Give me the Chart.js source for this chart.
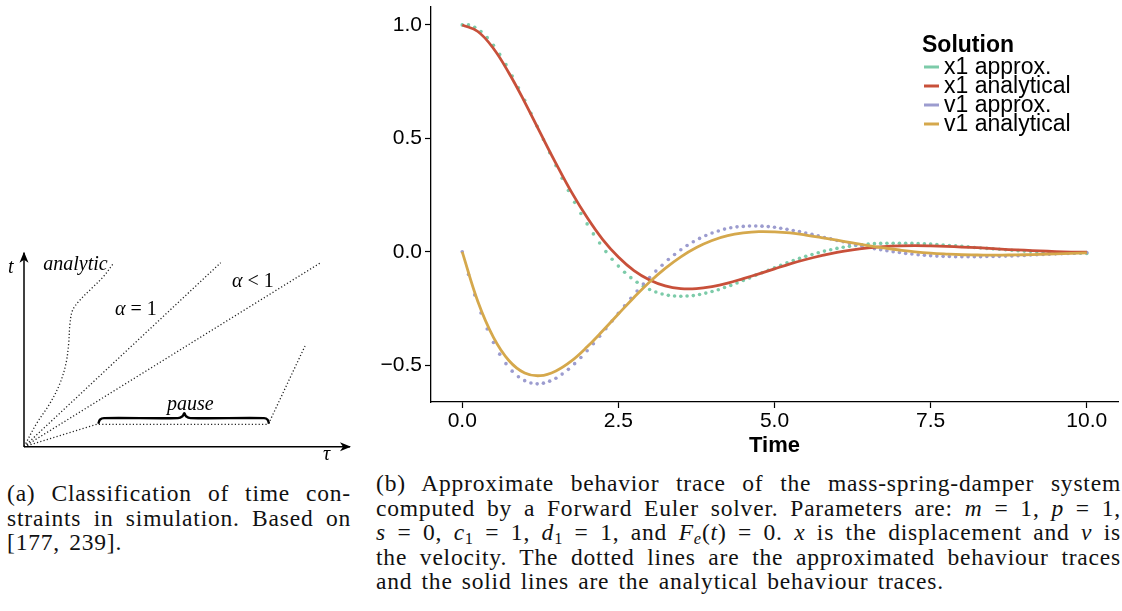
<!DOCTYPE html>
<html>
<head>
<meta charset="utf-8">
<script src="https://cdn.jsdelivr.net/npm/chart.js@4.4.0/dist/chart.umd.min.js"></script>
<style>
  body { margin: 0; background: #fff; }
  #page { position: relative; width: 1122px; height: 611px; overflow: hidden; background: #fff; }
  .panel { position: absolute; }
  .cap {
    position: absolute;
    font-family: "Liberation Serif", serif;
    font-size: 23.5px;
    line-height: 24.6px;
    letter-spacing: 0.8px;
    word-spacing: 2.5px;
    color: #111;
  }
  .cap div { text-align: justify; text-align-last: justify; white-space: nowrap; }
  .cap div.last { text-align-last: left; }
  .cap sub { font-size: 0.7em; line-height: 0; vertical-align: -0.25em; }
</style>
</head>
<body>
<div id="page">
  <div class="panel" style="left:0; top:240px; width:365px; height:230px;">
    <canvas id="diagramChart"></canvas>
  </div>
  <div class="panel" style="left:370px; top:0; width:752px; height:470px;">
    <canvas id="traceChart"></canvas>
  </div>

  <div class="cap" style="left:7px; top:481px; width:344px;">
    <div>(a) Classification of time con-</div>
    <div>straints in simulation. Based on</div>
    <div class="last">[177, 239].</div>
  </div>

  <div class="cap" style="left:376px; top:471px; width:745px;">
    <div>(b) Approximate behavior trace of the mass-spring-damper system</div>
    <div>computed by a Forward Euler solver. Parameters are: <i>m</i> = 1, <i>p</i> = 1,</div>
    <div><i>s</i> = 0, <i>c</i><sub>1</sub> = 1, <i>d</i><sub>1</sub> = 1, and <i>F<sub>e</sub></i>(<i>t</i>) = 0. <i>x</i> is the displacement and <i>v</i> is</div>
    <div>the velocity. The dotted lines are the approximated behaviour traces</div>
    <div class="last">and the solid lines are the analytical behaviour traces.</div>
  </div>
</div>

<script>
// ===== (b) data: analytical solution =====
const analyticTime = [0, 0.25, 0.5, 0.75, 1, 1.25, 1.5, 1.75, 2, 2.25, 2.5, 2.75, 3, 3.25, 3.5, 3.75, 4, 4.25, 4.5, 4.75,
  5, 5.25, 5.5, 5.75, 6, 6.25, 6.5, 6.75, 7, 7.25, 7.5, 7.75, 8, 8.25, 8.5, 8.75, 9, 9.25, 9.5, 9.75, 10];
const x1Analytic = [1.000, 0.971, 0.896, 0.787, 0.660, 0.524, 0.390, 0.263, 0.151, 0.054,
  -0.023, -0.083, -0.124, -0.150, -0.162, -0.162, -0.153, -0.138, -0.118, -0.097,
  -0.075, -0.053, -0.034, -0.017, -0.002, 0.009, 0.017, 0.023, 0.026, 0.027,
  0.026, 0.024, 0.021, 0.018, 0.014, 0.010, 0.007, 0.004, 0.001, -0.001, -0.002];
const v1Analytic = [0.000, -0.219, -0.377, -0.480, -0.534, -0.546, -0.525, -0.481, -0.419, -0.348,
  -0.274, -0.201, -0.133, -0.073, -0.022, 0.019, 0.050, 0.071, 0.083, 0.089,
  0.088, 0.083, 0.074, 0.063, 0.051, 0.039, 0.027, 0.017, 0.008, 0.000,
  -0.006, -0.010, -0.013, -0.014, -0.015, -0.014, -0.013, -0.011, -0.009, -0.007, -0.005];

// ===== (b) data: Euler approximation (one dot per step) =====
const approxTime = [0, 0.1, 0.2, 0.3, 0.4, 0.5, 0.6, 0.7, 0.8, 0.9,
  1, 1.1, 1.2, 1.3, 1.4, 1.5, 1.6, 1.7, 1.8, 1.9,
  2, 2.1, 2.2, 2.3, 2.4, 2.5, 2.6, 2.7, 2.8, 2.9,
  3, 3.1, 3.2, 3.3, 3.4, 3.5, 3.6, 3.7, 3.8, 3.9,
  4, 4.1, 4.2, 4.3, 4.4, 4.5, 4.6, 4.7, 4.8, 4.9,
  5, 5.1, 5.2, 5.3, 5.4, 5.5, 5.6, 5.7, 5.8, 5.9,
  6, 6.1, 6.2, 6.3, 6.4, 6.5, 6.6, 6.7, 6.8, 6.9,
  7, 7.1, 7.2, 7.3, 7.4, 7.5, 7.6, 7.7, 7.8, 7.9,
  8, 8.1, 8.2, 8.3, 8.4, 8.5, 8.6, 8.7, 8.8, 8.9,
  9, 9.1, 9.2, 9.3, 9.4, 9.5, 9.6, 9.7, 9.8, 9.9,
  10];
const x1Approx = [1.000, 1.000, 0.990, 0.971, 0.944, 0.910, 0.870, 0.825, 0.775, 0.723,
  0.668, 0.611, 0.553, 0.495, 0.437, 0.380, 0.324, 0.270, 0.218, 0.169,
  0.123, 0.079, 0.039, 0.001, -0.033, -0.063, -0.090, -0.114, -0.134, -0.152,
  -0.166, -0.177, -0.186, -0.192, -0.195, -0.196, -0.195, -0.193, -0.188, -0.182,
  -0.175, -0.167, -0.157, -0.148, -0.137, -0.126, -0.115, -0.103, -0.092, -0.081,
  -0.070, -0.059, -0.048, -0.038, -0.029, -0.020, -0.012, -0.004, 0.003, 0.009,
  0.015, 0.020, 0.024, 0.028, 0.031, 0.034, 0.036, 0.037, 0.038, 0.038,
  0.038, 0.038, 0.037, 0.036, 0.035, 0.034, 0.032, 0.030, 0.028, 0.026,
  0.024, 0.022, 0.019, 0.017, 0.015, 0.013, 0.011, 0.009, 0.007, 0.005,
  0.003, 0.002, 0.000, -0.001, -0.002, -0.003, -0.004, -0.005, -0.006, -0.006,
  -0.007];
const v1Approx = [0.000, -0.100, -0.190, -0.270, -0.340, -0.400, -0.451, -0.493, -0.526, -0.551,
  -0.568, -0.578, -0.582, -0.579, -0.570, -0.557, -0.539, -0.518, -0.493, -0.466,
  -0.436, -0.405, -0.372, -0.339, -0.305, -0.271, -0.238, -0.205, -0.173, -0.142,
  -0.113, -0.085, -0.059, -0.034, -0.012, 0.009, 0.028, 0.044, 0.059, 0.072,
  0.083, 0.092, 0.100, 0.106, 0.110, 0.112, 0.114, 0.114, 0.113, 0.111,
  0.108, 0.104, 0.099, 0.094, 0.089, 0.083, 0.077, 0.070, 0.063, 0.057,
  0.050, 0.044, 0.037, 0.031, 0.025, 0.020, 0.014, 0.009, 0.005, 0.000,
  -0.003, -0.007, -0.010, -0.013, -0.015, -0.017, -0.019, -0.020, -0.021, -0.022,
  -0.022, -0.022, -0.022, -0.022, -0.021, -0.021, -0.020, -0.019, -0.018, -0.017,
  -0.016, -0.014, -0.013, -0.012, -0.011, -0.009, -0.008, -0.007, -0.006, -0.004,
  -0.003];

const timeTicks = [0, 2.5, 5, 7.5, 10];
const valueTicks = [-0.5, 0, 0.5, 1];
const seriesLabels = ["x1 approx.", "x1 analytical", "v1 approx.", "v1 analytical"];
const seriesColors = ["#7ccba9", "#c8503a", "#9c9ccf", "#d5a84c"];

// ===== (a) data: diagram lines, in tau / t units =====
const tAxisX = [0, 0];
const tAxisY = [0, 194];
const tauAxisX = [0, 326];
const tauAxisY = [0, 0];
const analyticX = [0, 12.7, 26, 36, 42, 44.7, 46, 48.7, 56, 67.7, 79.3, 90];
const analyticY = [0, 23.4, 43.4, 63.4, 83.4, 103.4, 123.4, 136.7, 146.7, 158.4, 170, 184];
const alphaOneX = [0, 196.7];
const alphaOneY = [0, 184];
const alphaLessX = [0, 296.7];
const alphaLessY = [0, 184];
const pauseX = [0, 72.7, 244.3, 281];
const pauseY = [0, 22.4, 22.4, 100.7];
const braceX = [74.3, 76, 80, 154, 158.5, 160.3, 162, 166.5, 240, 243.6, 245];
const braceY = [23, 27, 28.6, 28.6, 30.5, 33.6, 30.5, 28.6, 28.6, 27, 23];

const pairs = (xs, ys) => xs.map((x, i) => ({ x: x, y: ys[i] }));

// ===== (b) legend + axis title =====
const traceDecor = {
  id: "traceDecor",
  afterDraw(chart) {
    const ctx = chart.ctx;
    ctx.save();
    ctx.fillStyle = "#000";
    ctx.textAlign = "left";
    ctx.textBaseline = "alphabetic";
    ctx.font = 'bold 23px "Liberation Sans"';
    ctx.fillText("Solution", 552, 52);

    ctx.font = '23px "Liberation Sans"';
    ctx.textBaseline = "middle";
    seriesLabels.forEach((label, i) => {
      const y = 67 + i * 19;
      ctx.strokeStyle = seriesColors[i];
      ctx.lineWidth = 3;
      ctx.beginPath();
      ctx.moveTo(554, y);
      ctx.lineTo(569, y);
      ctx.stroke();
      ctx.fillStyle = "#000";
      ctx.fillText(label, 574, y + 1);
    });

    const area = chart.chartArea;
    ctx.font = 'bold 22px "Liberation Sans"';
    ctx.textAlign = "center";
    ctx.textBaseline = "alphabetic";
    ctx.fillText("Time", (area.left + area.right) / 2, 452);
    ctx.restore();
  },
};

const approxSet = (i, ys, order) => ({
  label: seriesLabels[i],
  data: pairs(approxTime, ys),
  showLine: false,
  pointRadius: 1.8,
  pointBorderWidth: 0,
  pointBackgroundColor: seriesColors[i],
  borderColor: seriesColors[i],
  order: order,
});
const analyticSet = (i, ys, order) => ({
  label: seriesLabels[i],
  data: pairs(analyticTime, ys),
  borderColor: seriesColors[i],
  borderWidth: 2.8,
  pointRadius: 0,
  tension: 0.4,
  order: order,
});

const tickFont = { family: "Liberation Sans", size: 21 };

new Chart(document.getElementById("traceChart"), {
  type: "line",
  data: {
    datasets: [
      approxSet(0, x1Approx, 3),
      analyticSet(1, x1Analytic, 1),
      approxSet(2, v1Approx, 2),
      analyticSet(3, v1Analytic, 0),
    ],
  },
  options: {
    responsive: true,
    maintainAspectRatio: false,
    animation: false,
    devicePixelRatio: 1,
    layout: { padding: { top: 7, right: 2, left: 0, bottom: 0 } },
    plugins: { legend: { display: false }, tooltip: { enabled: false } },
    scales: {
      x: {
        type: "linear",
        min: -0.5,
        max: 10.5,
        afterBuildTicks: (s) => { s.ticks = timeTicks.map((v) => ({ value: v })); },
        afterFit: (s) => { s.height = 68; s.paddingLeft = 0; s.paddingRight = 0; },
        grid: { drawOnChartArea: false, tickLength: 6, tickColor: "#000", tickWidth: 1.2 },
        border: { display: true, color: "#000", width: 1.3 },
        ticks: { font: tickFont, color: "#000", padding: 1, maxRotation: 0, callback: (v) => v.toFixed(1) },
      },
      y: {
        type: "linear",
        min: -0.662,
        max: 1.079,
        afterBuildTicks: (s) => { s.ticks = valueTicks.map((v) => ({ value: v })); },
        afterFit: (s) => { s.width = 61; s.paddingTop = 0; s.paddingBottom = 0; },
        grid: { drawOnChartArea: false, tickLength: 6, tickColor: "#000", tickWidth: 1.2 },
        border: { display: true, color: "#000", width: 1.3 },
        ticks: {
          font: tickFont,
          color: "#000",
          padding: 3,
          callback: (v) => (v < 0 ? "\u2212" : "") + Math.abs(v).toFixed(1),
        },
      },
    },
  },
  plugins: [traceDecor],
});

// ===== (a) diagram: arrows + labels =====
const diagramLabels = [
  { x: 19.3, y: 176.7, parts: [["analytic", true]] },
  { x: 91, y: 131.7, parts: [["\u03b1", true], [" = 1", false]] },
  { x: 208, y: 160, parts: [["\u03b1", true], [" < 1", false]] },
  { x: 143, y: 36.7, parts: [["pause", true]] },
  { x: -16, y: 173.7, parts: [["t", true]] },
  { x: 299, y: -13.3, parts: [["\u03c4", true]] },
];

const diagramDecor = {
  id: "diagramDecor",
  afterDatasetsDraw(chart) {
    const ctx = chart.ctx;
    const sx = chart.scales.x;
    const sy = chart.scales.y;
    ctx.save();
    ctx.fillStyle = "#000";

    // arrow heads
    const ux = sx.getPixelForValue(tAxisX[1]);
    const uy = sy.getPixelForValue(tAxisY[1]);
    ctx.beginPath();
    ctx.moveTo(ux, uy - 1);
    ctx.lineTo(ux - 4.5, uy + 10);
    ctx.lineTo(ux, uy + 7);
    ctx.lineTo(ux + 4.5, uy + 10);
    ctx.closePath();
    ctx.fill();
    const rx = sx.getPixelForValue(tauAxisX[1]);
    const ry = sy.getPixelForValue(tauAxisY[1]);
    ctx.beginPath();
    ctx.moveTo(rx + 1, ry);
    ctx.lineTo(rx - 10, ry - 4.5);
    ctx.lineTo(rx - 7, ry);
    ctx.lineTo(rx - 10, ry + 4.5);
    ctx.closePath();
    ctx.fill();

    // labels
    ctx.textBaseline = "alphabetic";
    ctx.textAlign = "left";
    diagramLabels.forEach((lab) => {
      let px = sx.getPixelForValue(lab.x);
      const py = sy.getPixelForValue(lab.y);
      lab.parts.forEach(([text, italic]) => {
        ctx.font = (italic ? "italic " : "") + '20px "Liberation Serif"';
        ctx.fillText(text, px, py);
        px += ctx.measureText(text).width;
      });
    });
    ctx.restore();
  },
};

const solidLine = (pts) => ({
  data: pts, showLine: true, borderColor: "#000", borderWidth: 1.5, pointRadius: 0, clip: false,
});
const dottedLine = (pts, tension) => ({
  data: pts, showLine: true, borderColor: "#222", borderWidth: 1.3, borderDash: [1.2, 2.2],
  pointRadius: 0, tension: tension || 0, clip: false,
});

new Chart(document.getElementById("diagramChart"), {
  type: "scatter",
  data: {
    datasets: [
      solidLine(pairs(tAxisX, tAxisY)),
      solidLine(pairs(tauAxisX, tauAxisY)),
      dottedLine(pairs(analyticX, analyticY), 0.35),
      dottedLine(pairs(alphaOneX, alphaOneY)),
      dottedLine(pairs(alphaLessX, alphaLessY)),
      dottedLine(pairs(pauseX, pauseY)),
      {
        data: pairs(braceX, braceY), showLine: true, borderColor: "#000", borderWidth: 2.4,
        pointRadius: 0, tension: 0.35, clip: false,
      },
    ],
  },
  options: {
    responsive: true,
    maintainAspectRatio: false,
    animation: false,
    devicePixelRatio: 1,
    layout: { padding: { left: 24, top: 12.7, right: 15, bottom: 23.3 } },
    plugins: { legend: { display: false }, tooltip: { enabled: false } },
    scales: {
      x: { type: "linear", display: false, min: 0, max: 326 },
      y: { type: "linear", display: false, min: 0, max: 194 },
    },
  },
  plugins: [diagramDecor],
});
</script>
</body>
</html>
